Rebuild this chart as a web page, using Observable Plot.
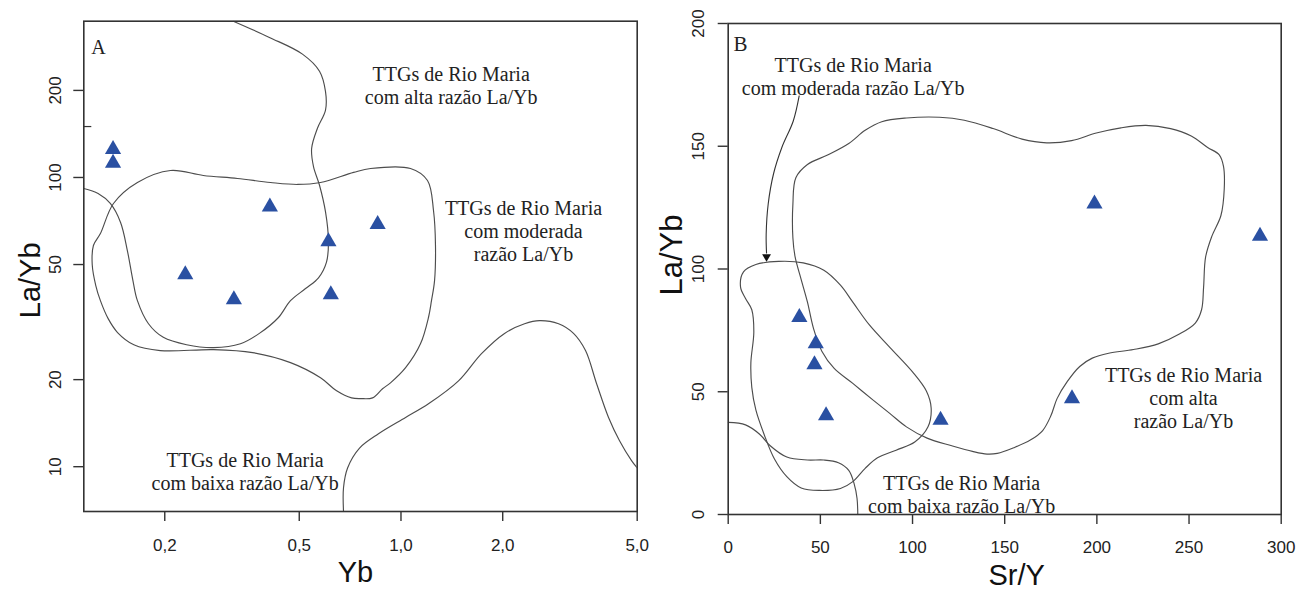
<!DOCTYPE html>
<html><head><meta charset="utf-8">
<script src="https://cdn.jsdelivr.net/npm/d3@7"></script>
<script src="https://cdn.jsdelivr.net/npm/@observablehq/plot@0.6"></script>
<style>
html,body{margin:0;padding:0;background:#fff;}
#wrap{position:relative;width:1297px;height:592px;overflow:hidden;background:#fff;}
#wrap svg{position:absolute;top:0;}
</style></head><body><div id="wrap"></div>
<script>
// ---------- Panel A : La/Yb vs Yb (log-log) ----------
const aYb   = [0.1406, 0.1406, 0.230, 0.3203, 0.4093, 0.610, 0.620, 0.853];
const aLaYb = [125.0, 112.2, 46.2, 37.8, 79.1, 60.0, 39.4, 68.8];
const aXTicks = [0.2, 0.5, 1.0, 2.0, 5.0];
const aYTicks = [10, 20, 50, 100, 200];
const aYExtraTick = [150];

// field boundaries (Yb, La/Yb)
const aHighCurve = [[0.319,347],[0.408,305],[0.511,267],[0.574,233],[0.598,198],[0.598,171],[0.566,148],[0.544,126],[0.551,109],[0.574,94],[0.598,76],[0.610,60],[0.602,51],[0.570,45],[0.522,41.3],[0.471,37.5],[0.434,32.8],[0.381,28.9],[0.335,26.6],[0.279,25.8],[0.232,26.4],[0.198,28.0],[0.179,31.2],[0.166,37.5],[0.161,44.0],[0.155,55.9],[0.148,69.9],[0.138,81.3],[0.127,88.0],[0.1152,91.6]];
const aModLoop = [[0.122,50.0],[0.123,58.2],[0.129,64.0],[0.141,81.3],[0.166,96.1],[0.208,105.7],[0.260,101.6],[0.328,99.2],[0.411,96.1],[0.494,94.6],[0.578,96.1],[0.724,104.1],[0.813,107.4],[1.067,107.4],[1.198,97.6],[1.248,76.9],[1.265,58.2],[1.257,44.0],[1.231,37.5],[1.206,32.8],[1.142,26.6],[1.032,22.0],[0.931,19.5],[0.882,18.6],[0.824,17.3],[0.759,17.2],[0.714,17.3],[0.645,18.3],[0.578,20.3],[0.471,22.9],[0.364,24.8],[0.279,25.4],[0.194,25.2],[0.162,26.4],[0.145,29.1],[0.136,32.5],[0.129,37.5],[0.125,42.3]];
const aLowCurve = [[0.676,7.0],[0.676,8.46],[0.695,9.9],[0.754,11.6],[0.858,13.0],[1.032,14.8],[1.206,16.5],[1.480,19.8],[1.731,24.6],[2.025,28.9],[2.321,31.2],[2.570,32.0],[2.926,31.2],[3.240,28.9],[3.516,25.2],[3.790,19.4],[4.113,14.8],[4.433,12.3],[4.811,10.5],[5.0,9.9]];

const aLabels = ["TTGs de Rio Maria\ncom alta razão La/Yb", "TTGs de Rio Maria\ncom moderada\nrazão La/Yb", "TTGs de Rio Maria\ncom baixa razão La/Yb"];
const aLabelX = [1.408, 2.304, 0.3457];
const aLabelY = [208.6, 65.4, 9.65];

// ---------- Panel B : La/Yb vs Sr/Y ----------
const bSrY  = [38.6, 47.5, 46.8, 53.1, 115.2, 186.5, 198.7, 288.5];
const bLaYb = [80.3, 69.6, 61.1, 40.3, 38.5, 47.2, 126.5, 113.4];
const bXTicks = [0, 50, 100, 150, 200, 250, 300];
const bYTicks = [0, 50, 100, 150, 200];

const bHighLoop = [[35.1,112.6],[35.1,126.5],[36.7,137.2],[43.0,142.6],[54.2,146.5],[65.4,151.1],[74.3,156.5],[83.3,160.0],[96.7,161.5],[114.6,161.8],[128.1,160.6],[143.7,157.2],[159.4,152.9],[172.8,151.4],[186.3,152.3],[199.7,155.4],[213.1,157.5],[226.6,158.5],[240.0,157.2],[251.2,154.2],[260.1,149.5],[266.4,146.5],[268.7,141.8],[269.1,132.6],[267.3,121.8],[262.4,113.4],[259.0,104.9],[257.9,92.6],[256.8,83.4],[253.4,78.0],[244.5,73.4],[233.3,69.5],[219.9,67.2],[206.4,65.7],[197.5,63.7],[190.7,60.3],[184.0,54.2],[178.4,47.2],[175.1,40.3],[170.6,34.2],[163.9,30.3],[154.9,27.2],[146.0,24.9],[140.4,24.6],[132.5,25.7],[121.3,28.0],[107.9,31.1],[96.7,35.7],[87.8,41.1],[78.8,46.5],[67.6,53.4],[57.5,59.5],[50.8,66.5],[46.3,75.7],[43.0,86.5],[39.6,95.7],[36.3,104.9]];
const bModLoop = [[6.7,92.6],[8.3,98.8],[15.0,101.8],[27.3,103.1],[40.7,102.5],[51.9,99.5],[60.9,93.4],[67.6,86.5],[76.6,77.2],[87.8,68.0],[100.1,58.0],[107.5,50.3],[110.1,43.4],[108.4,35.7],[101.2,29.5],[91.1,26.2],[81.0,23.1],[74.3,18.8],[67.6,13.4],[60.9,10.6],[49.7,9.8],[39.6,10.8],[31.8,15.4],[25.1,22.6],[19.5,32.6],[15.0,42.6],[12.8,51.8],[12.3,61.8],[13.9,74.2],[12.8,83.4],[9.4,88.0]];
const bLowCurve = [[0,37.5],[9.4,36.5],[17.2,32.6],[22.8,28.0],[31.8,23.4],[43.0,22.2],[51.9,22.2],[59.8,21.1],[65.4,18.0],[68.3,12.6],[69.9,6.5],[70.3,0]];
const bArrowPath = [[38.5,170.5],[35.3,160.3],[29.1,149.5],[24.6,138.8],[21.7,126.5],[20.6,114.2],[20.8,106.5]];
const bArrowHead = [[20.8,105.0]];

const bLabels = ["TTGs de Rio Maria\ncom moderada razão La/Yb", "TTGs de Rio Maria\ncom alta\nrazão La/Yb", "TTGs de Rio Maria\ncom baixa razão La/Yb"];
const bLabelX = [67.8, 247.0, 126.6];
const bLabelY = [178.4, 47.7, 8.3];

// ---------- drawing ----------
const SANS = "'Liberation Sans', Arial, Helvetica, sans-serif";
const SERIF = "'Liberation Serif', 'Times New Roman', serif";
const ink = "#222";
const curveStroke = {stroke: "#4d4d4d", strokeWidth: 1.15, clip: true};
const fmtComma = d => d.toFixed(1).replace(".", ",");
const idx = a => a.map((_, i) => i);

const plotA = Plot.plot({
  width: 650, height: 592,
  marginLeft: 83.3, marginRight: 13.3, marginTop: 20.7, marginBottom: 81,
  x: {type: "log", domain: [0.1152, 5]},
  y: {type: "log", domain: [7, 347]},
  style: {fontFamily: SANS, fontSize: "17px", color: ink, background: "transparent", overflow: "visible"},
  marks: [
    Plot.line(aHighCurve, {...curveStroke, curve: "catmull-rom"}),
    Plot.line(aModLoop, {...curveStroke, curve: "catmull-rom-closed"}),
    Plot.line(aLowCurve, {...curveStroke, curve: "catmull-rom"}),
    Plot.frame({stroke: "#333", strokeWidth: 1.6}),
    Plot.axisX(aXTicks, {tickSize: 10, tickPadding: 17, tickFormat: fmtComma, label: null, stroke: "#333", strokeWidth: 1.4, fill: ink}),
    Plot.axisY(aYTicks, {tickSize: 10, tickPadding: 13, tickRotate: -90, tickFormat: d => String(d), label: null, stroke: "#333", strokeWidth: 1.4, fill: ink}),
    Plot.axisY(aYExtraTick, {tickSize: -8, tickFormat: () => "", label: null, stroke: "#333", strokeWidth: 1.2}),
    Plot.dot(idx(aYb), {x: i => aYb[i], y: i => aLaYb[i], symbol: "triangle", r: 6, fill: "#2a50a2", stroke: "none"}),
    Plot.text(idx(aLabels), {x: i => aLabelX[i], y: i => aLabelY[i], text: i => aLabels[i], fontFamily: SERIF, fontSize: 20, lineHeight: 1.15, textAnchor: "middle", lineAnchor: "middle", fill: ink}),
    Plot.text(["A"], {frameAnchor: "top-left", dx: 7.5, dy: 32.6, textAnchor: "start", lineAnchor: "bottom", fontFamily: SERIF, fontSize: 20, fill: ink}),
    Plot.text(["Yb"], {frameAnchor: "bottom", dx: -5, dy: 70, lineAnchor: "bottom", textAnchor: "middle", fontSize: 29, fill: "#111"}),
    Plot.text(["La/Yb"], {frameAnchor: "left", rotate: -90, dx: -44, dy: 14, lineAnchor: "bottom", textAnchor: "middle", fontSize: 29, fill: "#111"})
  ]
});

const plotB = Plot.plot({
  width: 647, height: 592,
  marginLeft: 77.7, marginRight: 16.3, marginTop: 23, marginBottom: 78,
  x: {domain: [0, 300]},
  y: {domain: [0, 200]},
  style: {fontFamily: SANS, fontSize: "17px", color: ink, background: "transparent", overflow: "visible"},
  marks: [
    Plot.line(bHighLoop, {...curveStroke, curve: "catmull-rom-closed"}),
    Plot.line(bModLoop, {...curveStroke, curve: "catmull-rom-closed"}),
    Plot.line(bLowCurve, {...curveStroke, curve: "catmull-rom"}),
    Plot.line(bArrowPath, {stroke: "#333", strokeWidth: 1.1, curve: "catmull-rom"}),
    Plot.dot(bArrowHead, {symbol: "triangle", rotate: 180, r: 3.3, fill: "#111", stroke: "none"}),
    Plot.frame({stroke: "#333", strokeWidth: 1.6}),
    Plot.axisX(bXTicks, {tickSize: 10, tickPadding: 16, label: null, stroke: "#333", strokeWidth: 1.4, fill: ink}),
    Plot.axisY(bYTicks, {tickSize: 10, tickPadding: 14, tickRotate: -90, label: null, stroke: "#333", strokeWidth: 1.4, fill: ink}),
    Plot.dot(idx(bSrY), {x: i => bSrY[i], y: i => bLaYb[i], symbol: "triangle", r: 6, fill: "#2a50a2", stroke: "none"}),
    Plot.text(idx(bLabels), {x: i => bLabelX[i], y: i => bLabelY[i], text: i => bLabels[i], fontFamily: SERIF, fontSize: 20, lineHeight: 1.15, textAnchor: "middle", lineAnchor: "middle", fill: ink}),
    Plot.text(["B"], {frameAnchor: "top-left", dx: 5.3, dy: 27, textAnchor: "start", lineAnchor: "bottom", fontFamily: SERIF, fontSize: 21, fill: ink}),
    Plot.text(["Sr/Y"], {frameAnchor: "bottom", dx: 12, dy: 70, lineAnchor: "bottom", textAnchor: "middle", fontSize: 29, fill: "#111"}),
    Plot.text(["La/Yb"], {frameAnchor: "left", rotate: -90, dx: -46, dy: -14, lineAnchor: "bottom", textAnchor: "middle", fontSize: 31, fill: "#111"})
  ]
});

const wrap = document.getElementById("wrap");
plotA.style.left = "0px";
plotB.style.left = "650px";
wrap.appendChild(plotA);
wrap.appendChild(plotB);
</script>
</body></html>
